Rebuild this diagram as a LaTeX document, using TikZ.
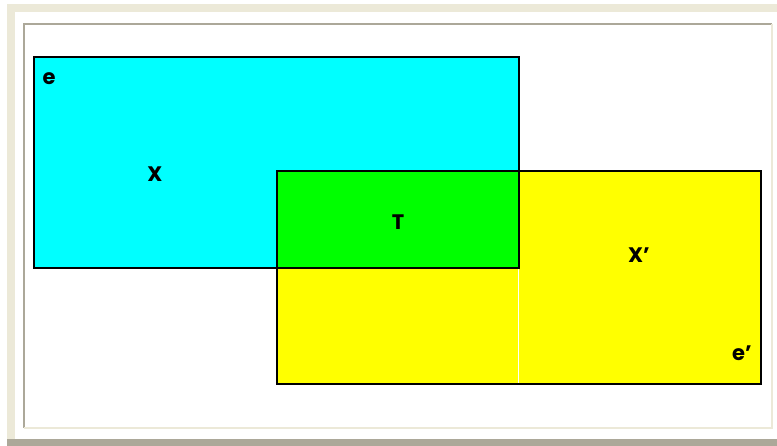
\documentclass[tikz,border=0pt]{standalone}
\usepackage{fontspec}
\setmainfont{Poppins}

\begin{document}
\begin{tikzpicture}[x=1pt,y=-1pt,line join=miter]

  \definecolor{framebeige}{RGB}{236,233,216}
  \definecolor{framegray}{RGB}{172,168,153}
  \definecolor{setcyan}{RGB}{0,255,255}
  \definecolor{setgreen}{RGB}{0,255,0}
  \definecolor{setyellow}{RGB}{255,255,0}
  \tikzset{setlabel/.style={font=\fontsize{21}{24}\selectfont\bfseries,anchor=base,inner sep=0pt}}

  \useasboundingbox (0,0) rectangle (777,446);

  % ---- window frame ----
  \fill[white] (0,0) rectangle (777,446);
  \fill[framebeige] (7,4) rectangle (777,12);
  \fill[framebeige] (7,4) rectangle (15,439);
  \fill[framegray] (7,439) rectangle (777,446);
  \draw[framegray,line width=2] (23.5,428) -- (23.5,24.5) -- (772,24.5);
  \draw[framebeige,line width=2] (23.5,428) -- (772,428) -- (772,24.5);

  % ---- sets ----
  \draw[line width=1.6,fill=setyellow] (277,171) rectangle (761,384);
  \draw[white,line width=1.5] (518.5,269) -- (518.5,383);
  \draw[line width=1.6,fill=setcyan] (34,57) rectangle (519,268);
  \draw[line width=1.6,fill=setgreen] (277,171) rectangle (519,268);

  % ---- labels ----
  \node[setlabel] (e) at (49,85) {e};
  \node[setlabel] (X) at (155,182) {X};
  \node[setlabel] (T) at (398,230) {T};
  \node[setlabel] (Xp) at (639,263) {X'};
  \node[setlabel] (ep) at (742,361) {e'};

\end{tikzpicture}
\end{document}
